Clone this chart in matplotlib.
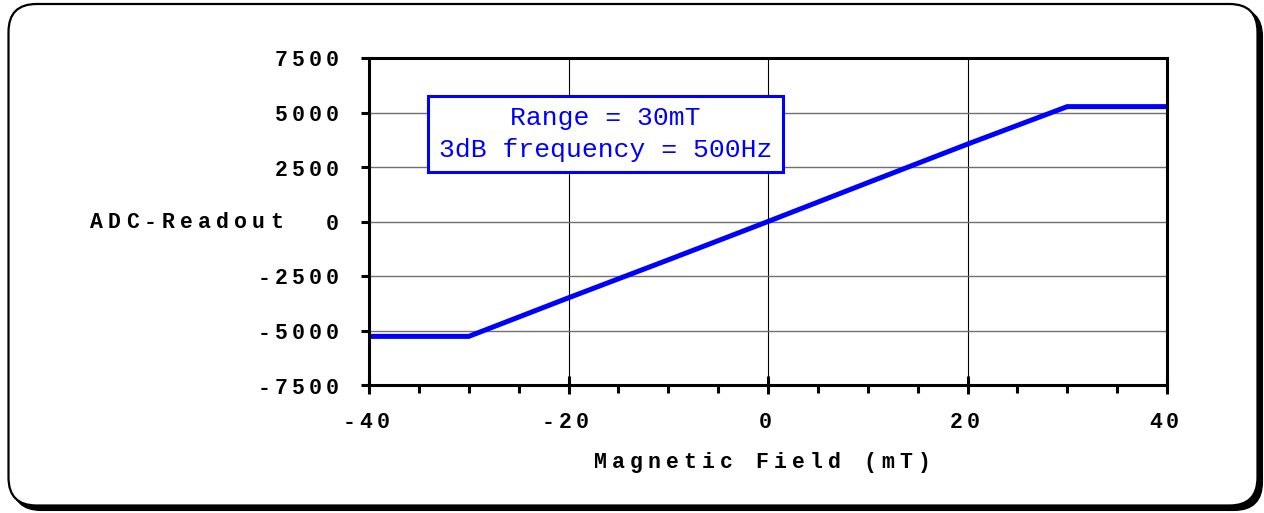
import matplotlib
matplotlib.use('Agg')
import matplotlib.pyplot as plt
from matplotlib.patches import FancyBboxPatch, Rectangle
from matplotlib.ticker import MultipleLocator
from matplotlib.transforms import offset_copy, blended_transform_factory

# data
field_mT = [-40, -30, -20, -10, 0, 10, 20, 30, 40]
adc_readout = [-5270, -5270, -3500, -1760, 0, 1780, 3550, 5270, 5270]
x_ticks = [-40, -20, 0, 20, 40]
y_ticks = [-7500, -5000, -2500, 0, 2500, 5000, 7500]
x_tick_labels = ['-40', '-20', '0', '20', '40']
y_tick_labels = ['-7500', '-5000', '-2500', '0', '2500', '5000', '7500']
x_title = 'Magnetic Field (mT)'
y_title = 'ADC-Readout'
note_lines = ['Range = 30mT', '3dB frequency = 500Hz']

W, H = 1264, 513
fig = plt.figure(figsize=(W / 100, H / 100), dpi=100)
fig.patch.set_facecolor('white')

# rounded frame with a drop shadow
r = 0.28
shadow = FancyBboxPatch((0.13, 0.03), 12.49, 5.015, boxstyle=f'round,pad=0,rounding_size={r}',
                        transform=fig.dpi_scale_trans, facecolor='black', edgecolor='black',
                        lw=1.5, zorder=-3)
frame = FancyBboxPatch((0.085, 0.075), 12.49, 5.015, boxstyle=f'round,pad=0,rounding_size={r}',
                       transform=fig.dpi_scale_trans, facecolor='white', edgecolor='black',
                       lw=1.6, zorder=-2)
fig.add_artist(shadow)
fig.add_artist(frame)

L, R, T, B = 369, 1167, 58, 385
ax = fig.add_axes([L / W, (H - B) / H, (R - L) / W, (B - T) / H])
ax.set_facecolor('white')

ax.plot(field_mT, adc_readout, color='#0000ff', lw=3.6, solid_capstyle='butt',
        solid_joinstyle='miter', zorder=4)

ax.set_xlim(-40, 40)
ax.set_ylim(-7500, 7500)
ax.set_xticks(x_ticks)
ax.set_yticks(y_ticks)
ax.xaxis.set_minor_locator(MultipleLocator(5))
ax.tick_params(axis='x', which='major', direction='inout', length=13, width=2.2,
               labelbottom=False)
ax.tick_params(axis='x', which='minor', direction='out', length=5.8, width=2.2)
ax.tick_params(axis='y', which='major', direction='out', length=5.8, width=2.2,
               labelleft=False)
ax.yaxis.grid(True, color='#707070', lw=1.0)
ax.xaxis.grid(True, color='black', lw=0.8)
ax.set_axisbelow(True)
for sp in ax.spines.values():
    sp.set_linewidth(2.2)
    sp.set_color('black')
    sp.set_zorder(6)

label_font = dict(family=['Liberation Mono', 'DejaVu Sans Mono'], weight='bold',
                  size=15.5, color='black')


def spaced(trans, x, y, s, step, ox=0, oy=0, align='center', **kw):
    # monospace text with extra letter spacing, one glyph per slot
    n = len(s)
    for i, ch in enumerate(s):
        if ch == ' ':
            continue
        if align == 'right':
            dx = ox - (n - 1 - i) * step
        else:
            dx = ox + (i - (n - 1) / 2) * step
        t = offset_copy(trans, fig=fig, x=dx, y=oy, units='dots')
        fig.text(x, y, ch, transform=t, ha='center', va='baseline', **kw)


ytrans = blended_transform_factory(ax.transAxes, ax.transData)
for v, s in zip(y_ticks, y_tick_labels):
    spaced(ytrans, 0, v, s, 17, ox=-37, oy=-8.5, align='right', **label_font)

xtrans = blended_transform_factory(ax.transData, ax.transAxes)
for v, s in zip(x_ticks, x_tick_labels):
    spaced(xtrans, v, 0, s, 17, ox=-3, oy=-42.5, **label_font)

spaced(ax.transAxes, 0.5, 0, x_title, 18, ox=-6, oy=-(468 - B), **label_font)
spaced(ytrans, 0, 0, y_title, 18, ox=186.5 - L, oy=-6, **label_font)

# annotation box
ax.add_patch(Rectangle((0.0739, 0.6514), 0.4449, 0.2324, transform=ax.transAxes,
                       facecolor='white', edgecolor='#0000ff', lw=2.2, zorder=5))
note_font = dict(family=['Liberation Mono', 'DejaVu Sans Mono'], size=19, color='#0000ff')
ax.text(0.2964, 0.7951, note_lines[0], transform=ax.transAxes, ha='center',
        va='baseline', zorder=7, **note_font)
ax.text(0.2964, 0.6972, note_lines[1], transform=ax.transAxes, ha='center',
        va='baseline', zorder=7, **note_font)

fig.savefig('out.png', dpi=100)
